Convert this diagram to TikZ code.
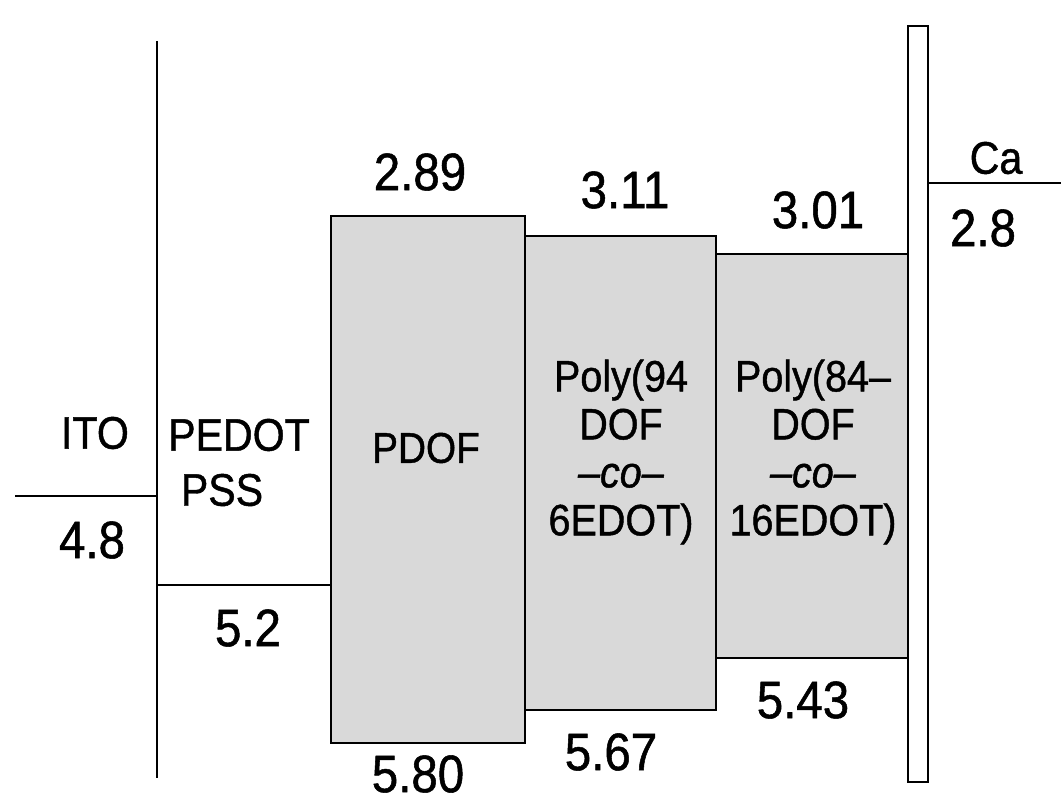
\documentclass[tikz,border=0pt]{standalone}
\usepackage{fontspec}
\setmainfont[FakeStretch=0.9,FakeBold=1]{Liberation Sans}
\begin{document}
\begin{tikzpicture}[x=0.02cm,y=-0.02cm,line width=1.6pt,line join=miter,
  every node/.style={inner sep=0pt},
  lvl/.style={font=\fontsize{30}{32}\selectfont},
  lbl/.style={font=\fontsize{26}{28}\selectfont},
  poly/.style={font=\fontsize{25}{27.3}\selectfont,align=center},
  band/.style={fill=black!15,draw=black}]
  \useasboundingbox (0,0) rectangle (1061,804);
  % electrodes and levels
  \coordinate (T) at (157,41);
  \coordinate (B) at (157,778);
  \coordinate (I) at (15,496);
  \coordinate (Ie) at (157,496);
  \coordinate (P) at (157,585);
  \coordinate (Pe) at (331,585);
  \coordinate (K) at (928,183);
  \coordinate (Ke) at (1061,183);
  % bands
  \draw[band] (331,216) rectangle (525,743);
  \draw[band] (525,236) rectangle (716,710);
  \draw[band] (716,254) rectangle (908,658);
  \draw (908,26) rectangle (928,782);
  \draw (T)--(B) (I)--(Ie) (P)--(Pe) (K)--(Ke);
  % labels
  \node[lbl] (ito) at (95,433) {ITO};
  \node[lvl] (ito4) at (92,540) {4.8};
  \node[lbl] (pedot) at (239,435) {PEDOT};
  \node[lbl] (pss) at (222,490) {PSS};
  \node[lvl] (ped5) at (248,628) {5.2};
  \node[lbl,font=\fontsize{24.5}{26}\selectfont] (pdof) at (426,448) {PDOF};
  \node[lvl] (pdof2) at (420,172) {2.89};
  \node[lvl] (pdof5) at (418,774) {5.80};
  \node[poly] (p94) at (621,452) {Poly(94\\DOF\\\textit{--co--}\\6EDOT)};
  \node[lvl] (p943) at (625,190) {3.11};
  \node[lvl] (p945) at (611,752) {5.67};
  \node[poly] (p84) at (813,452) {Poly(84--\\DOF\\\textit{--co--}\\16EDOT)};
  \node[lvl] (p843) at (818,210) {3.01};
  \node[lvl] (p845) at (803,700) {5.43};
  \node[lbl] (ca) at (996,158) {Ca};
  \node[lvl] (ca2) at (983,228) {2.8};
\end{tikzpicture}
\end{document}
